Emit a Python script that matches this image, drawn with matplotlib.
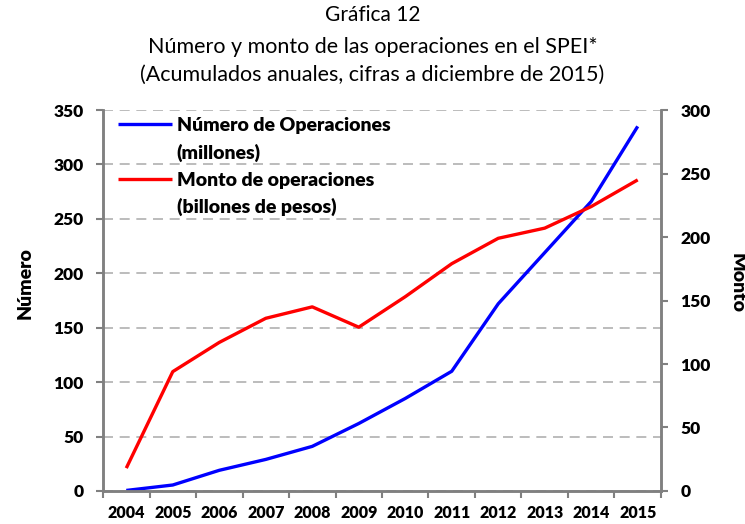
import matplotlib.pyplot as plt
import numpy as np

plt.rcParams['font.family'] = ['Lato', 'DejaVu Sans']

years = ['2004', '2005', '2006', '2007', '2008', '2009', '2010', '2011', '2012', '2013', '2014', '2015']
numero = [0.5, 5.5, 19, 29, 41, 62, 85, 110, 172, 219, 266, 335]
monto = [18, 94, 117, 136, 145, 129, 153, 179, 199, 207, 224, 245]

x = np.arange(len(years))
gray = '#808080'
wt = 'heavy'

fig = plt.figure(figsize=(7.45, 5.24), dpi=100)
ax = fig.add_axes([0.1383, 0.063, 0.7489, 0.727])
ax2 = ax.twinx()

l1, = ax.plot(x, numero, color='#0000ff', lw=2.4, solid_capstyle='butt',
              label='Número de Operaciones')
l2, = ax2.plot(x, monto, color='#ff0000', lw=2.4, solid_capstyle='butt',
               label='Monto de operaciones')

ax.set_xlim(-0.5, len(years) - 0.5)
ax.set_ylim(0, 350)
ax2.set_ylim(0, 300)
ax.set_yticks(np.arange(0, 351, 50))
ax2.set_yticks(np.arange(0, 301, 50))
ax.set_xticks(x)
ax.set_xticklabels(years)
ax.set_xticks(np.arange(-0.5, len(years), 1), minor=True)
ax.tick_params(axis='x', which='major', length=0, pad=10)
ax.tick_params(axis='x', which='minor', length=5, color=gray, width=1.5)
ax.tick_params(axis='y', length=5, color=gray, width=1.5, pad=9)
ax2.tick_params(axis='y', length=5, color=gray, width=1.5, pad=9)

for lab in ax.get_xticklabels():
    lab.set_fontsize(11.5)
    lab.set_fontweight(wt)
for lab in ax.get_yticklabels() + ax2.get_yticklabels():
    lab.set_fontsize(12.5)
    lab.set_fontweight(wt)

ax.yaxis.grid(True, color='#b0b0b0', linestyle=(0, (6, 4)), lw=1.2)
ax.set_axisbelow(True)

for a in (ax, ax2):
    a.spines['top'].set_visible(False)
    for s in ('left', 'right', 'bottom'):
        a.spines[s].set_color(gray)
        a.spines[s].set_linewidth(1.8)

fig.text(0.034, 0.46, 'Número', fontsize=14, fontweight=wt, rotation=90,
         ha='center', va='center')
fig.text(0.989, 0.46, 'Monto', fontsize=14, fontweight=wt, rotation=-90,
         ha='center', va='center')

leg = ax.legend(handles=[l1, l2], loc='upper left', frameon=False,
                prop={'weight': wt, 'size': 14}, handlelength=2.8,
                handletextpad=0.23, labelspacing=1.95,
                bbox_to_anchor=(-0.005, 1.028))

# second line of each legend label
fig.canvas.draw()
subs = ['(millones)', '(billones de pesos)']
inv = fig.transFigure.inverted()
for t, s in zip(leg.get_texts(), subs):
    bb = t.get_window_extent()
    x0, y0 = inv.transform((bb.x0, bb.y0))
    fig.text(x0, y0 - 0.018, s, fontsize=14, fontweight=wt, ha='left', va='top')

fig.text(0.5, 0.972, 'Gráfica 12', ha='center', va='center', fontsize=15)
fig.text(0.5, 0.91, 'Número y monto de las operaciones en el SPEI*', ha='center', va='center', fontsize=15.5)
fig.text(0.5, 0.857, '(Acumulados anuales, cifras a diciembre de 2015)', ha='center', va='center', fontsize=15.5)

plt.savefig('out.png', dpi=100)
